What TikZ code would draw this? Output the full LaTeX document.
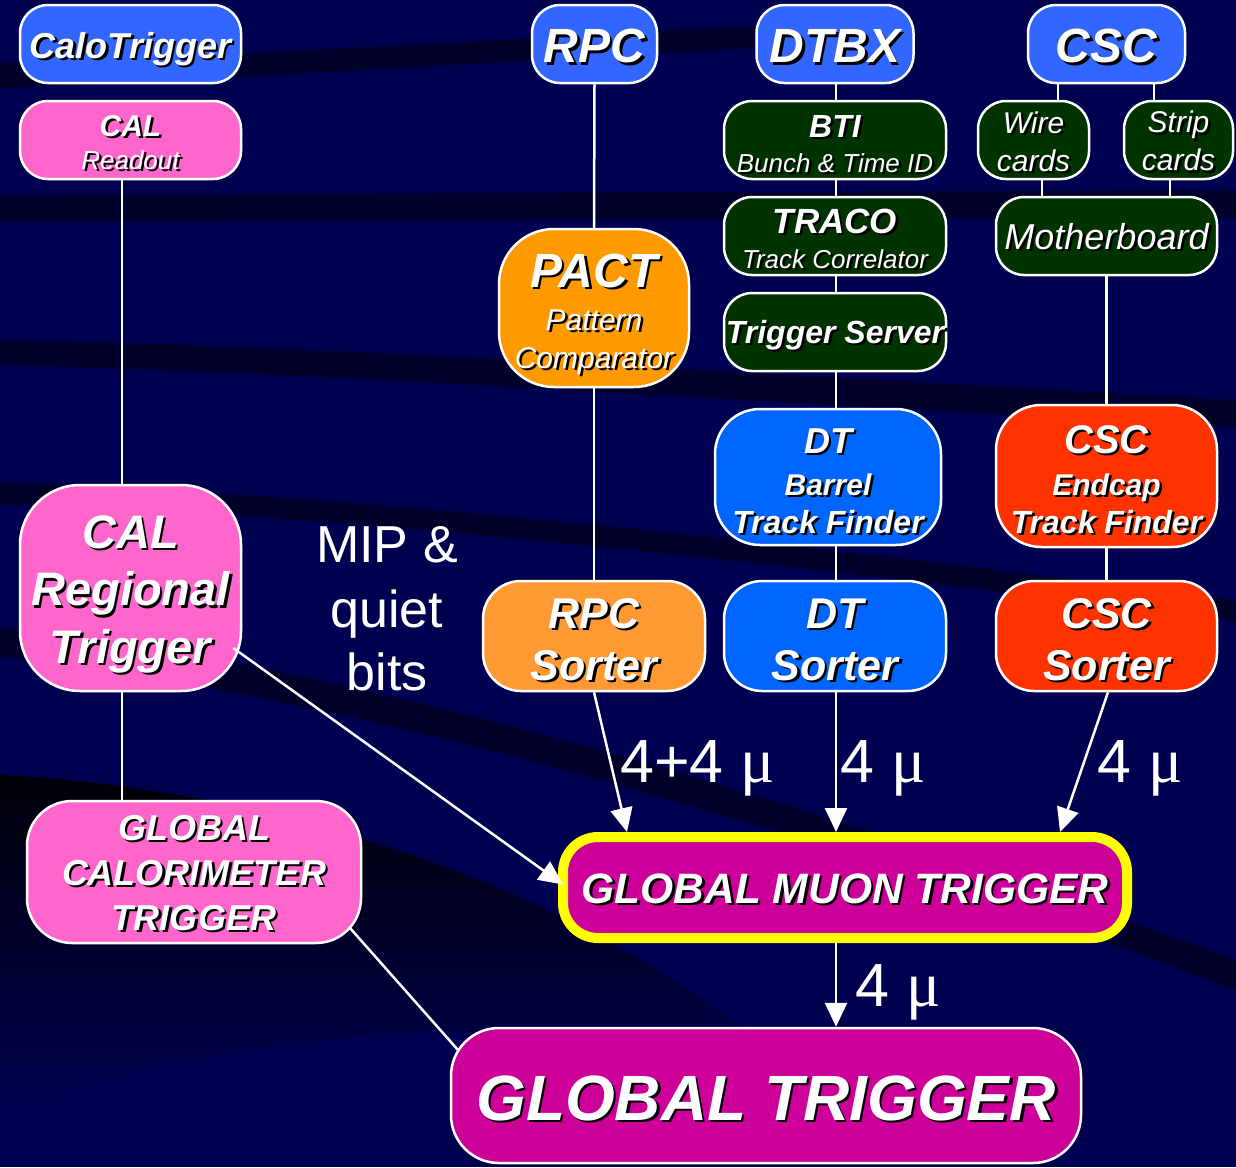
\documentclass[tikz,border=0pt]{standalone}
\usepackage{fontspec}
\setmainfont{Liberation Sans}
\newfontfamily\serifmu{Liberation Serif}
\usetikzlibrary{arrows.meta,calc}
\definecolor{bgnavy}{HTML}{000050}
\definecolor{bandcol}{HTML}{00002A}
\definecolor{blueA}{HTML}{3366FF}
\definecolor{pinkA}{HTML}{FF66CC}
\definecolor{greenA}{HTML}{003300}
\definecolor{orangeA}{HTML}{FF9900}
\definecolor{orangeB}{HTML}{FF9933}
\definecolor{blueB}{HTML}{0066FF}
\definecolor{redA}{HTML}{FF3300}
\definecolor{magA}{HTML}{CC0099}
\definecolor{yelA}{HTML}{FFFF00}
\newcommand{\shd}[1]{\leavevmode\rlap{\kern2.5pt\raisebox{-2.5pt}{\color{black}#1}}#1}
\newcommand{\fs}[2]{\fontsize{#1}{#2}\selectfont}
\newcommand{\fz}[1]{\fontsize{#1}{\baselineskip}\selectfont}
\newcommand{\bfit}{\bfseries\itshape}
\newcommand{\rgit}{\mdseries\itshape}
\begin{document}
\begin{tikzpicture}[x=1pt,y=-1pt,
  box/.style={draw=white, line width=2.5pt, rounded corners=#1, text=white, align=center, inner sep=0pt, text depth=0pt},
  box/.default=28pt,
  conn/.style={draw=white, line width=2.5pt},
  arr/.style={draw=white, line width=2.5pt, -{Triangle[length=24pt,width=22pt]}},
  lbl/.style={text=white, inner sep=0pt, font=\fs{61}{70}}]
% background
\useasboundingbox (0,0) rectangle (1236,1167);
\fill[bgnavy] (0,0) rectangle (1236,1167);
\fill[bandcol] (0,62) .. controls (250,55) and (500,40) .. (760,25) -- (760,48) .. controls (500,62) and (250,78) .. (0,88) -- cycle;
\fill[bandcol] (0,195) -- (1236,190) -- (1236,218) -- (0,222) -- cycle;
\fill[bandcol] (0,340) .. controls (300,345) and (700,370) .. (1236,400) -- (1236,428) .. controls (700,398) and (300,372) .. (0,365) -- cycle;
\fill[bandcol] (0,482) .. controls (300,492) and (700,530) .. (1236,600) -- (1236,622) .. controls (700,552) and (300,512) .. (0,505) -- cycle;
\fill[bandcol] (0,627) .. controls (300,660) and (700,760) .. (1236,960) -- (1236,990) .. controls (700,790) and (300,690) .. (0,657) -- cycle;
\shade[top color=black!90!bgnavy, bottom color=bgnavy] (0,775) .. controls (300,790) and (600,900) .. (780,1060) .. controls (500,1000) and (200,1040) .. (0,1110) -- cycle;

% top row
\node[box, fill=blueA, minimum width=221pt, minimum height=78pt, text height=28pt] (calo) at (130.5,44) {\fs{36}{40}\bfit\shd{CaloTrigger}};
\node[box, fill=blueA, minimum width=125pt, minimum height=78pt, text height=37pt] (rpc) at (594.5,44) {\fs{48}{52}\bfit\shd{RPC}};
\node[box, fill=blueA, minimum width=157pt, minimum height=78pt, text height=37pt] (dtbx) at (835,44) {\fs{48}{52}\bfit\shd{DTBX}};
\node[box, fill=blueA, minimum width=157pt, minimum height=78pt, text height=37pt] (csc) at (1106.5,44) {\fs{48}{52}\bfit\shd{CSC}};

% second row
\node[box, fill=pinkA, minimum width=221pt, minimum height=78pt, font=\fs{26}{33}, text height=58pt] (calread) at (130.5,140) {\fz{30}\bfit\shd{CAL}\\\fz{26}\rgit\shd{Readout}};
\node[box, fill=greenA, minimum width=222pt, minimum height=78pt, font=\fs{26}{35}, text height=64pt] (bti) at (835,140) {\fz{32}\bfit\shd{BTI}\\\fz{26}\rgit\shd{Bunch \& Time ID}};
\node[box, fill=greenA, minimum width=111pt, minimum height=78pt, font=\fs{30}{38}, text height=62pt] (wire) at (1033.5,140) {\rgit\shd{Wire}\\\rgit\shd{cards}};
\node[box, fill=greenA, minimum width=109pt, minimum height=78pt, font=\fs{30}{38}, text height=61pt] (strip) at (1178.5,140) {\rgit\shd{Strip}\\\rgit\shd{cards}};

% third row
\node[box, fill=greenA, minimum width=222pt, minimum height=78pt, font=\fs{26}{35}, text height=64pt] (traco) at (835,236) {\fz{35}\bfit\shd{TRACO}\\\fz{26}\rgit\shd{Track Correlator}};
\node[box, fill=greenA, minimum width=221pt, minimum height=78pt, text height=26pt] (mother) at (1106.5,236) {\fs{36}{40}\rgit\shd{Motherboard}};
\node[box, fill=greenA, minimum width=222pt, minimum height=78pt, text height=22pt] (tserv) at (835,332) {\fs{32}{36}\bfit\shd{Trigger Server}};
\node[box=55pt, fill=orangeA, minimum width=190pt, minimum height=158pt, font=\fs{30}{38}, text height=120pt] (pact) at (594,308) {\fz{48}\bfit\shd{PACT}\\[5pt]\fz{30}\rgit\shd{Pattern}\\\fz{30}\rgit\shd{Comparator}};

% track finders
\node[box=45pt, fill=blueB, minimum width=226pt, minimum height=136pt, font=\fs{30}{38}, text height=112pt] (dttf) at (828,477) {\fz{36}\bfit\shd{DT}\\[4pt]\fz{30}\bfit\shd{Barrel}\\\fz{32}\bfit\shd{Track Finder}};
\node[box=45pt, fill=redA, minimum width=221pt, minimum height=142pt, font=\fs{30}{38}, text height=114pt] (csctf) at (1106.5,476) {\fz{40}\bfit\shd{CSC}\\[4pt]\fz{30}\bfit\shd{Endcap}\\\fz{32}\bfit\shd{Track Finder}};

% regional / sorters
\node[box=60pt, fill=pinkA, minimum width=221pt, minimum height=206pt, font=\fs{47}{57.5}, text height=150pt] (calreg) at (130.5,588) {\bfit\shd{CAL}\\\bfit\shd{Regional}\\\bfit\shd{Trigger}};
\node[box=38pt, fill=orangeB, minimum width=222pt, minimum height=110pt, font=\fs{43}{52}, text height=88pt] (rpcsort) at (594,636) {\bfit\shd{RPC}\\\bfit\shd{Sorter}};
\node[box=38pt, fill=blueB, minimum width=222pt, minimum height=110pt, font=\fs{43}{52}, text height=88pt] (dtsort) at (835,636) {\bfit\shd{DT}\\\bfit\shd{Sorter}};
\node[box=38pt, fill=redA, minimum width=221pt, minimum height=110pt, font=\fs{43}{52}, text height=88pt] (cscsort) at (1106.5,636) {\bfit\shd{CSC}\\\bfit\shd{Sorter}};

% global
\node[box=45pt, fill=pinkA, minimum width=334pt, minimum height=142pt, font=\fs{36}{45}, text height=116pt] (gct) at (194,872) {\bfit\shd{GLOBAL}\\\bfit\shd{CALORIMETER}\\\bfit\shd{TRIGGER}};
\node[draw=yelA, line width=10pt, rounded corners=35pt, fill=magA, text=white, inner sep=0pt, text depth=0pt, text height=31pt, minimum width=564pt, minimum height=101pt] (gmt) at (845,887.5) {\fs{42.5}{46}\bfit\shd{GLOBAL MUON TRIGGER}};
\node[box=48pt, fill=magA, minimum width=630pt, minimum height=135pt, text height=49pt] (gt) at (766,1095.5) {\fs{64}{68}\bfit\shd{GLOBAL TRIGGER}};

% plain connectors
\draw[conn] ([xshift=-8.5pt]calread.south) -- ([xshift=-8.5pt]calreg.north);
\draw[conn] ([xshift=-8.5pt]calreg.south) -- ([xshift=-72pt]gct.north);
\draw[conn] (rpc.south) -- (pact.north);
\draw[conn] (pact.south) -- (rpcsort.north);
\draw[conn] ([xshift=1pt]dtbx.south) -- ([xshift=1pt]bti.north);
\draw[conn] ([xshift=1pt]bti.south) -- ([xshift=1pt]traco.north);
\draw[conn] ([xshift=1pt]traco.south) -- ([xshift=1pt]tserv.north);
\draw[conn] ([xshift=1pt]tserv.south) -- ([xshift=8pt]dttf.north);
\draw[conn] ([xshift=8pt]dttf.south) -- ([xshift=1pt]dtsort.north);
\draw[conn] ([xshift=-48.5pt]csc.south) -- ([xshift=24.5pt]wire.north);
\draw[conn] ([xshift=47.5pt]csc.south) -- ([xshift=-24.5pt]strip.north);
\draw[conn] ([xshift=8.5pt]wire.south) -- ([xshift=-64.5pt]mother.north);
\draw[conn] ([xshift=-8.5pt]strip.south) -- ([xshift=63.5pt]mother.north);
\draw[conn] (mother.south) -- (csctf.north);
\draw[conn] (csctf.south) -- (cscsort.north);
\draw[conn] ([shift={(156,56)}]gct.center) -- ([shift={(-308,-45.5)}]gt.center);

% arrows
\draw[arr] (rpcsort.south) -- ([xshift=69pt]gmt.north west);
\draw[arr] ([xshift=1pt]dtsort.south) -- ([xshift=-9pt]gmt.north);
\draw[arr] ([xshift=1.5pt]cscsort.south) -- ([xshift=-72pt]gmt.north east);
\draw[arr] ([shift={(-9,60)}]calreg.east) -- ([shift={(5,-3)}]gmt.west);
\draw[arr] ([xshift=-9pt]gmt.south) -- ([xshift=70pt]gt.north);

% labels
\node[text=white, inner sep=0pt, font=\fs{52}{60}, anchor=base] (mip1) at (387,562) {MIP \&};
\node[text=white, inner sep=0pt, font=\fs{52}{60}, anchor=base] (mip2) at (387,627) {quiet};
\node[text=white, inner sep=0pt, font=\fs{52}{60}, anchor=base] (mip3) at (387,690) {bits};
\node[lbl, anchor=base west] (mu1) at (620,782) {4+4 {\serifmu\fontsize{64}{70}\selectfont μ}};
\node[lbl, anchor=base west] (mu2) at (840,782) {4 {\serifmu\fontsize{64}{70}\selectfont μ}};
\node[lbl, anchor=base west] (mu3) at (1097,782) {4 {\serifmu\fontsize{64}{70}\selectfont μ}};
\node[lbl, anchor=base west] (mu4) at (855,1006) {4 {\serifmu\fontsize{64}{70}\selectfont μ}};
\end{tikzpicture}
\end{document}
